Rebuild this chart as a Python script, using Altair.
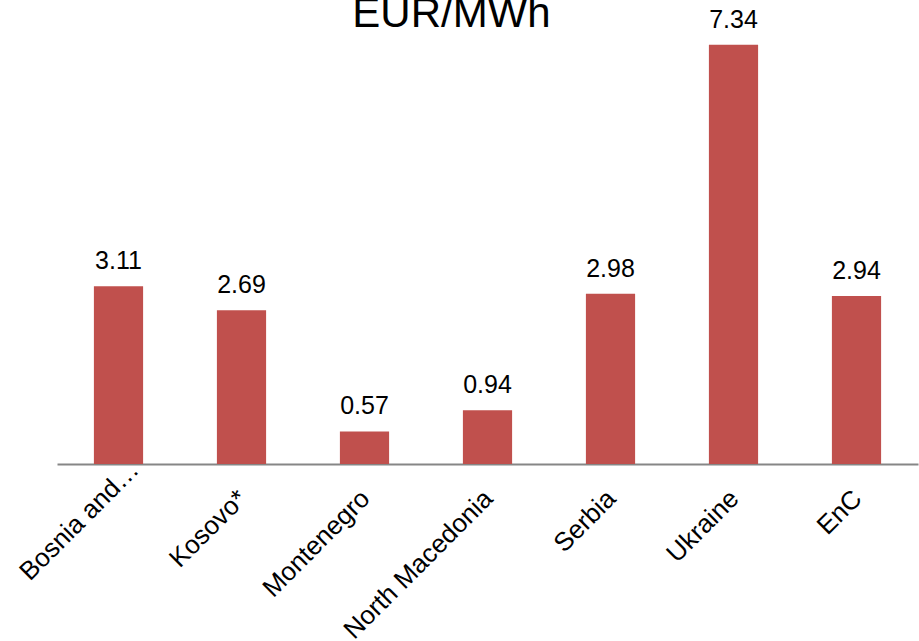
import altair as alt
import pandas as pd

# Average price per country, EUR/MWh
countries = ["Bosnia and Herzegovina", "Kosovo*", "Montenegro", "North Macedonia",
             "Serbia", "Ukraine", "EnC"]
values = [3.11, 2.69, 0.57, 0.94, 2.98, 7.34, 2.94]

df = pd.DataFrame({"country": countries, "value": values})

FONT = "Liberation Sans"
BAR_COLOR = "#C0504D"
LONG = "datum.value == 'Bosnia and Herzegovina'"

x_enc = alt.X(
    "country:N",
    sort=countries,
    scale=alt.Scale(paddingInner=0.6, paddingOuter=0.3),
    axis=alt.Axis(
        title=None,
        labelAngle=-45,
        labelAlign="right",
        labelBaseline="top",
        labelFontSize=26,
        labelFont=FONT,
        labelColor="black",
        # the truncated long name sits a little higher than the others
        labelPadding={"condition": {"test": LONG, "value": -8}, "value": 21},
        labelOffset={"condition": {"test": LONG, "value": 7}, "value": -8},
        labelLimit=400,
        ticks=False,
        domainColor="#868686",
        domainWidth=2,
        labelExpr=f"{LONG} ? 'Bosnia and…' : datum.value",
    ),
)
y_enc = alt.Y("value:Q", scale=alt.Scale(domain=[0, 8], nice=False, zero=True), axis=None)

base = alt.Chart(df).encode(x=x_enc, y=y_enc)

bars = base.mark_bar(color=BAR_COLOR)

labels = base.mark_text(
    baseline="alphabetic", dy=-17, fontSize=25, font=FONT, color="black"
).encode(text=alt.Text("value:Q", format=".2f"))

title = alt.Chart(pd.DataFrame({"t": ["EUR/MWh"]})).mark_text(
    fontSize=42, font=FONT, color="black", baseline="alphabetic", align="center"
).encode(text="t:N", x=alt.value(394.5), y=alt.value(20))

chart = alt.layer(bars, labels, title).properties(
    width=861,
    height=457,
    autosize=alt.AutoSizeParams(type="none"),
    padding={"left": 57, "top": 7, "right": 1, "bottom": 177},
    background="white",
).configure_view(stroke=None, strokeWidth=0)

chart.save("out.html", embed_options={"renderer": "svg", "actions": False})
